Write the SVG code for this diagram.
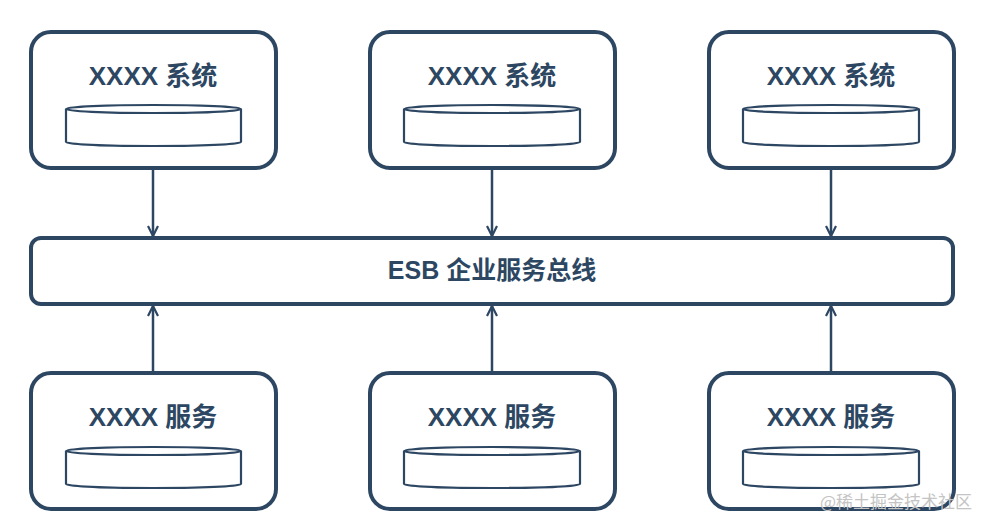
<svg xmlns="http://www.w3.org/2000/svg" width="998" height="530" viewBox="0 0 998 530">
<defs>
<style>
.box{fill:#fff;stroke:#2d4763;stroke-width:4}
.cyl{fill:#fff;stroke:#2d4763;stroke-width:2.2}
.lbl{font-family:"Liberation Sans","Noto Sans CJK SC",sans-serif;font-weight:bold;font-size:26px;fill:#2d4763;text-anchor:middle}
.conn{stroke:#2d4763;stroke-width:2.5;fill:none}
.wm{font-family:"Noto Sans CJK SC",sans-serif;font-size:17px;fill:#c4c4c4}
</style>
<marker id="ah" viewBox="0 0 12 12" refX="11" refY="6" markerWidth="12" markerHeight="12" markerUnits="userSpaceOnUse" orient="auto">
<path d="M1,1 L11,6 L1,11" fill="none" stroke="#2d4763" stroke-width="2.2"/>
</marker>
</defs>
<rect width="998" height="530" fill="#fff"/>
<g id="connectors">
<line class="conn" x1="153" y1="170" x2="153" y2="236" marker-end="url(#ah)"/>
<line class="conn" x1="492" y1="170" x2="492" y2="236" marker-end="url(#ah)"/>
<line class="conn" x1="831" y1="170" x2="831" y2="236" marker-end="url(#ah)"/>
<line class="conn" x1="153" y1="371" x2="153" y2="306" marker-end="url(#ah)"/>
<line class="conn" x1="492" y1="371" x2="492" y2="306" marker-end="url(#ah)"/>
<line class="conn" x1="831" y1="371" x2="831" y2="306" marker-end="url(#ah)"/>
</g>
<g id="sys1">
<rect class="box" x="31" y="32" width="245" height="136" rx="20"/>
<text class="lbl" x="153" y="85">XXXX 系统</text>
<path class="cyl" d="M66,109 V142 A87.5,4 0 0 0 241,142 V109"/>
<ellipse class="cyl" cx="153.5" cy="109" rx="87.5" ry="4"/>
</g>
<g id="sys2">
<rect class="box" x="370" y="32" width="245" height="136" rx="20"/>
<text class="lbl" x="492" y="85">XXXX 系统</text>
<path class="cyl" d="M404,109 V142 A88,4 0 0 0 580,142 V109"/>
<ellipse class="cyl" cx="492" cy="109" rx="88" ry="4"/>
</g>
<g id="sys3">
<rect class="box" x="709" y="32" width="245" height="136" rx="20"/>
<text class="lbl" x="831" y="85">XXXX 系统</text>
<path class="cyl" d="M743,109 V142 A88,4 0 0 0 919,142 V109"/>
<ellipse class="cyl" cx="831" cy="109" rx="88" ry="4"/>
</g>
<g id="esb">
<rect class="box" x="31" y="238" width="922" height="66" rx="10"/>
<text class="lbl" x="492" y="279" style="font-size:25px">ESB 企业服务总线</text>
</g>
<g id="svc1">
<rect class="box" x="31" y="373" width="245" height="136" rx="20"/>
<text class="lbl" x="153" y="426">XXXX 服务</text>
<path class="cyl" d="M66,451 V484 A87.5,4 0 0 0 241,484 V451"/>
<ellipse class="cyl" cx="153.5" cy="451" rx="87.5" ry="4"/>
</g>
<g id="svc2">
<rect class="box" x="370" y="373" width="245" height="136" rx="20"/>
<text class="lbl" x="492" y="426">XXXX 服务</text>
<path class="cyl" d="M404,451 V484 A88,4 0 0 0 580,484 V451"/>
<ellipse class="cyl" cx="492" cy="451" rx="88" ry="4"/>
</g>
<g id="svc3">
<rect class="box" x="709" y="373" width="245" height="136" rx="20"/>
<text class="lbl" x="831" y="426">XXXX 服务</text>
<path class="cyl" d="M743,451 V484 A88,4 0 0 0 919,484 V451"/>
<ellipse class="cyl" cx="831" cy="451" rx="88" ry="4"/>
</g>
<text class="wm" x="820" y="508">@稀土掘金技术社区</text>
</svg>
